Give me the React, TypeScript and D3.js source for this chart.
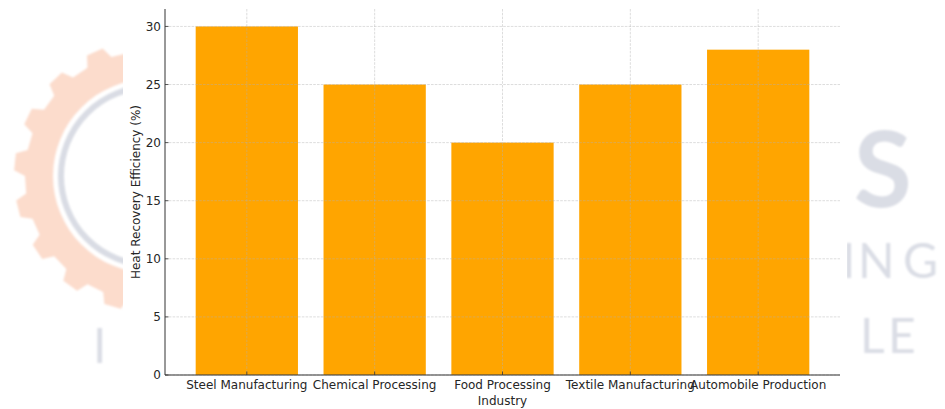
import React from "react";
import * as d3 from "d3";

// Heat recovery efficiency by industry
const industries = [
  "Steel Manufacturing",
  "Chemical Processing",
  "Food Processing",
  "Textile Manufacturing",
  "Automobile Production",
];
const efficiency = [30, 25, 20, 25, 28];
const yTicks = [0, 5, 10, 15, 20, 25, 30];

const W = 945;
const H = 409;
const FONT = "'DejaVu Sans', Verdana, sans-serif";

// plot box
const left = 165;
const right = 840;
const top = 9;
const bottom = 375;
const barWidth = 0.8;

function gearPath(cx: number, cy: number, rIn: number, rBody: number, rTooth: number, teeth: number) {
  const pts: [number, number][] = [];
  const step = (Math.PI * 2) / teeth;
  for (let i = 0; i < teeth; i++) {
    const a0 = i * step;
    const seg = [
      [a0, rBody],
      [a0 + step * 0.12, rTooth],
      [a0 + step * 0.48, rTooth],
      [a0 + step * 0.6, rBody],
    ];
    seg.forEach(([a, r]) => pts.push([cx + r * Math.cos(a), cy + r * Math.sin(a)]));
  }
  const outer = d3.line().curve(d3.curveLinearClosed)(pts);
  const inner = `M${cx + rIn},${cy} A${rIn},${rIn} 0 1,0 ${cx - rIn},${cy} A${rIn},${rIn} 0 1,0 ${cx + rIn},${cy} Z`;
  return outer + inner;
}

export default function App() {
  const x = d3.scaleLinear().domain([-0.64, industries.length - 1 + 0.64]).range([left, right]);
  const y = d3.scaleLinear().domain([0, 31.5]).range([bottom, top]);

  const wmColor = "#dadde5";
  const wmFont = "Lato, 'DejaVu Sans', sans-serif";

  return (
    <svg
      width={W}
      height={H}
      style={{ position: "absolute", left: 0, top: 0, background: "#fff" }}
      fontFamily={FONT}
    >
      <defs>
        <filter id="soft" x="-10%" y="-10%" width="120%" height="120%">
          <feGaussianBlur stdDeviation="1.2" />
        </filter>
      </defs>

      {/* background logo */}
      <g filter="url(#soft)">
        <path d={gearPath(150, 176, 97, 125, 136, 18)} fill="#fcdccc" fillRule="evenodd" />
        <circle cx={150} cy={176} r={89} fill="none" stroke="#d9dce4" strokeWidth={6} />
        <text x={912} y={207} fontSize={106} fontWeight={700} fill={wmColor} fontFamily={wmFont} textAnchor="end">
          S
        </text>
        <text y={278} fontSize={48} fill={wmColor} fontFamily={wmFont}>
          <tspan x={842}>I</tspan>
          <tspan x={858}>N</tspan>
          <tspan x={903}>G</tspan>
        </text>
        <text y={353} fontSize={48} fill={wmColor} fontFamily={wmFont}>
          <tspan x={860}>L</tspan>
          <tspan x={888}>E</tspan>
        </text>
        <text y={363} fontSize={48} fill={wmColor} fontFamily={wmFont}>
          <tspan x={93}>I</tspan>
        </text>
      </g>

      {/* chart canvas */}
      <rect x={123} y={0} width={724} height={H} fill="#fff" />

      {/* bars */}
      {efficiency.map((v, i) => (
        <rect
          key={industries[i]}
          x={x(i - barWidth / 2)}
          y={y(v)}
          width={x(i + barWidth / 2) - x(i - barWidth / 2)}
          height={y(0) - y(v)}
          fill="#FFA500"
        />
      ))}

      {/* grid */}
      <g stroke="#b0b0b0" strokeOpacity={0.55} strokeWidth={0.8} strokeDasharray="2.6,1.2">
        {yTicks.map((t) => (
          <line key={"h" + t} x1={left} x2={right} y1={y(t)} y2={y(t)} />
        ))}
        {industries.map((_, i) => (
          <line key={"v" + i} x1={x(i)} x2={x(i)} y1={top} y2={bottom} />
        ))}
      </g>

      {/* spines */}
      <g stroke="#333" strokeWidth={1}>
        <line x1={left} x2={left} y1={top} y2={bottom} />
        <line x1={left} x2={right} y1={bottom} y2={bottom} />
      </g>

      {/* ticks */}
      <g stroke="#333" strokeWidth={0.8}>
        {yTicks.map((t) => (
          <line key={"yt" + t} x1={left} x2={left + 3.5} y1={y(t)} y2={y(t)} />
        ))}
        {industries.map((_, i) => (
          <line key={"xt" + i} x1={x(i)} x2={x(i)} y1={bottom} y2={bottom - 3.5} />
        ))}
      </g>

      {/* tick labels */}
      <g fontSize={12} fill="#262626">
        {yTicks.map((t) => (
          <text key={"yl" + t} x={left - 4} y={y(t) + 4.4} textAnchor="end">
            {t}
          </text>
        ))}
        {industries.map((name, i) => (
          <text key={"xl" + i} x={x(i)} y={389} textAnchor="middle">
            {name}
          </text>
        ))}
      </g>

      {/* axis titles */}
      <text x={x(2)} y={405} textAnchor="middle" fontSize={12} fill="#262626">
        Industry
      </text>
      <text
        transform={`translate(139.5, ${(top + bottom) / 2}) rotate(-90)`}
        textAnchor="middle"
        fontSize={12}
        fill="#262626"
      >
        Heat Recovery Efficiency (%)
      </text>
    </svg>
  );
}
